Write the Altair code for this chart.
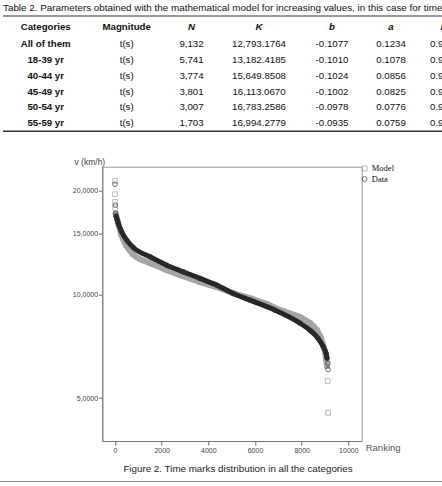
import altair as alt
import pandas as pd

# ---------------- table values ----------------
table_title = ("Table 2. Parameters obtained with the mathematical model for increasing "
               "values, in this case for time")
headers = ["Categories", "Magnitude", "N", "K", "b", "a", "R²"]
categories = ["All of them", "18-39 yr", "40-44 yr", "45-49 yr", "50-54 yr", "55-59 yr"]
magnitude = ["t(s)", "t(s)", "t(s)", "t(s)", "t(s)", "t(s)"]
n_values = ["9,132", "5,741", "3,774", "3,801", "3,007", "1,703"]
k_values = ["12,793.1764", "13,182.4185", "15,649.8508", "16,113.0670",
            "16,783.2586", "16,994.2779"]
b_values = ["-0.1077", "-0.1010", "-0.1024", "-0.1002", "-0.0978", "-0.0935"]
a_values = ["0.1234", "0.1078", "0.0856", "0.0825", "0.0776", "0.0759"]
r_values = ["0.9", "0.9", "0.9", "0.9", "0.9", "0.9"]

# ---------------- figure values (speed by ranking) ----------------
data_rank = [1, 13, 30, 50, 86, 141, 287, 501, 784, 1500, 2216, 2927, 3643, 4359,
             5070, 5786, 6857, 7929, 8357, 8700, 8914, 9043, 9086, 9129, 9132]
data_speed = [20.9, 18.17, 17.19, 16.88, 16.55, 16.07, 15.20, 14.38, 13.69, 12.86,
              12.16, 11.63, 11.13, 10.64, 10.06, 9.62, 9.00, 8.25, 7.87, 7.46,
              7.07, 6.75, 6.53, 6.31, 6.05]
model_rank = [1, 2, 4, 10, 30, 129, 257, 471, 771, 1500, 2229, 2914, 3643, 4371,
              5057, 5786, 6514, 7200, 7929, 8357, 8657, 8829, 8957, 9043, 9086,
              9117, 9132]
model_speed = [21.37, 19.55, 18.57, 17.81, 17.11, 16.21, 14.96, 13.90, 13.09, 12.33,
               11.76, 11.30, 10.85, 10.50, 10.08, 9.75, 9.37, 8.94, 8.59, 8.25,
               7.87, 7.46, 6.98, 6.53, 6.19, 5.60, 4.53]
x_ticks = [0, 2000, 4000, 6000, 8000, 10000]
y_ticks = [5, 10, 15, 20]
caption = "Figure 2. Time marks distribution in all the categories"

# ---------------- page layout ----------------
PAGE_W, PAGE_H = 442, 486
LEFT, TOP = 102.3, 166.7
PLOT_W, PLOT_H = 259.4, 274.3
col_x = [45.7, 126.7, 191.5, 259.0, 332.0, 391.0, 430.0]
row_y = [26.7, 43.7, 60.3, 76.0, 91.7, 107.0, 122.7]
SANS = "Liberation Sans"
SERIF = "Liberation Serif"

# band limits: ranks covered by the dense marker band of each series
band = {"Data": (50, 9086), "Model": (30, 9086)}

series = pd.DataFrame(
    {"rank": data_rank + model_rank,
     "speed": data_speed + model_speed,
     "series": ["Data"] * len(data_rank) + ["Model"] * len(model_rank)}
)

x_scale = alt.Scale(domain=[-544, 10573], nice=False, zero=False)
y_scale = alt.Scale(type="log", domain=[3.75, 23.5], nice=False, zero=False)
shape_scale = alt.Scale(domain=["Model", "Data"], range=["square", "circle"])
color_scale = alt.Scale(domain=["Model", "Data"], range=["#a0a0a0", "#333333"])

x_axis = alt.Axis(values=x_ticks, format="d", grid=False, labelFont=SANS,
                  labelFontSize=7, labelColor="#444", tickColor="#666", tickSize=4,
                  domainColor="#777", labelPadding=1, labelFlush=False,
                  title="Ranking", titleFont=SANS, titleFontSize=9.5,
                  titleFontWeight="normal", titleColor="#555",
                  titleX=PLOT_W + 3.5, titleY=6, titleAlign="left",
                  titleBaseline="middle")
y_axis = alt.Axis(values=y_ticks, grid=False,
                  labelExpr="replace(format(datum.value, '.4f'), '.', ',')",
                  labelFont=SANS, labelFontSize=7, labelColor="#444",
                  tickColor="#666", tickSize=3.7, domainColor="#777",
                  labelPadding=1, title="v (km/h)", titleFont=SANS,
                  titleFontSize=8.5, titleFontWeight="normal", titleColor="#444",
                  titleAngle=0, titleX=74 - LEFT, titleY=161.7 - TOP,
                  titleAlign="left", titleBaseline="middle")

base = alt.Chart(series)
X = alt.X("rank:Q", scale=x_scale, axis=x_axis)
Y = alt.Y("speed:Q", scale=y_scale, axis=y_axis)


def band_line(name, color, width):
    lo, hi = band[name]
    return base.mark_line(strokeWidth=width, strokeCap="round", strokeJoin="round",
                          interpolate="monotone").encode(
        x=X, y=Y, stroke=alt.value(color),
    ).transform_filter(
        (alt.datum.series == name) & (alt.datum["rank"] >= lo) & (alt.datum["rank"] <= hi)
    )


def markers(name):
    return base.mark_point(filled=False, size=22, strokeWidth=1).encode(
        x=X, y=Y,
        shape=alt.Shape("series:N", scale=shape_scale, title=None),
        color=alt.Color("series:N", scale=color_scale, title=None),
    ).transform_filter(alt.datum.series == name)


figure = alt.layer(
    band_line("Model", "#a6a6a6", 6),
    markers("Model"),
    band_line("Data", "#262626", 5),
    markers("Data"),
)

# ---------------- table as text ----------------
page_x = alt.Scale(domain=[0, PAGE_W], range=[-LEFT, PAGE_W - LEFT])
page_y = alt.Scale(domain=[0, PAGE_H], range=[-TOP, PAGE_H - TOP])

columns = [categories, magnitude, n_values, k_values, b_values, a_values, r_values]
cells = pd.DataFrame(
    [{"label": col[i], "x": col_x[j], "y": row_y[i + 1], "col": j}
     for j, col in enumerate(columns) for i in range(len(categories))]
)
head = pd.DataFrame(
    [{"label": h, "x": col_x[j] + (10.5 if j == 6 else 0), "y": row_y[0], "col": j}
     for j, h in enumerate(headers)]
)


def text_layer(df, weight, style="normal", align="center"):
    return alt.Chart(df).mark_text(font=SANS, fontSize=9.7, fontWeight=weight,
                                   fontStyle=style, align=align, baseline="middle",
                                   color="#111").encode(
        x=alt.X("x:Q", scale=page_x, axis=None),
        y=alt.Y("y:Q", scale=page_y, axis=None),
        text="label:N",
    )


head_plain = text_layer(head[head.col < 2], "bold")
head_italic = text_layer(head[(head.col >= 2) & (head.col < 6)], "bold", "italic")
head_last = text_layer(head[head.col == 6], "bold", "italic", "left")
body_cat = text_layer(cells[cells.col == 0], "bold")
body_vals = text_layer(cells[(cells.col > 0) & (cells.col < 6)], "normal")
body_last = text_layer(cells[cells.col == 6], "normal", align="left")

title_text = alt.Chart(pd.DataFrame({"t": [table_title]})).mark_text(
    font=SANS, fontSize=9.85, align="left", baseline="middle", color="#111"
).encode(x=alt.value(3 - LEFT), y=alt.value(7.5 - TOP), text="t:N")

rules = alt.Chart(pd.DataFrame({"k": [0]})).mark_rule(color="#333", strokeWidth=1)
top_rule = rules.encode(x=alt.value(3 - LEFT), x2=alt.value(PAGE_W - LEFT),
                        y=alt.value(16 - TOP))
bottom_rule = rules.mark_rule(color="#333", strokeWidth=1.6).encode(
    x=alt.value(3 - LEFT), x2=alt.value(PAGE_W - LEFT), y=alt.value(131.3 - TOP))

caption_text = alt.Chart(pd.DataFrame({"t": [caption]})).mark_text(
    font=SANS, fontSize=9.8, align="center", baseline="middle", color="#222"
).encode(x=alt.value(238 - LEFT), y=alt.value(469 - TOP), text="t:N")
page_rule = rules.mark_rule(color="#888", strokeWidth=1).encode(
    x=alt.value(-LEFT), x2=alt.value(PAGE_W - LEFT), y=alt.value(481.5 - TOP))

table = alt.layer(head_plain, head_italic, head_last, body_cat, body_vals, body_last)

chart = alt.layer(
    figure, table, title_text, top_rule, bottom_rule, caption_text, page_rule
).resolve_scale(
    x="independent", y="independent"
).properties(
    width=PLOT_W, height=PLOT_H,
    autosize=alt.AutoSizeParams(type="none"),
    padding={"left": LEFT, "top": TOP, "right": PAGE_W - LEFT - PLOT_W,
             "bottom": PAGE_H - TOP - PLOT_H},
).configure_view(
    stroke="#999", strokeWidth=1
).configure_legend(
    orient="none", legendX=258, legendY=-2.5, labelFont=SERIF, labelFontSize=8.5,
    labelColor="#111", symbolSize=24, symbolStrokeWidth=1, rowPadding=0.5,
    labelOffset=3, padding=0
)

chart.save("out.html", embed_options={"renderer": "svg", "actions": False})
